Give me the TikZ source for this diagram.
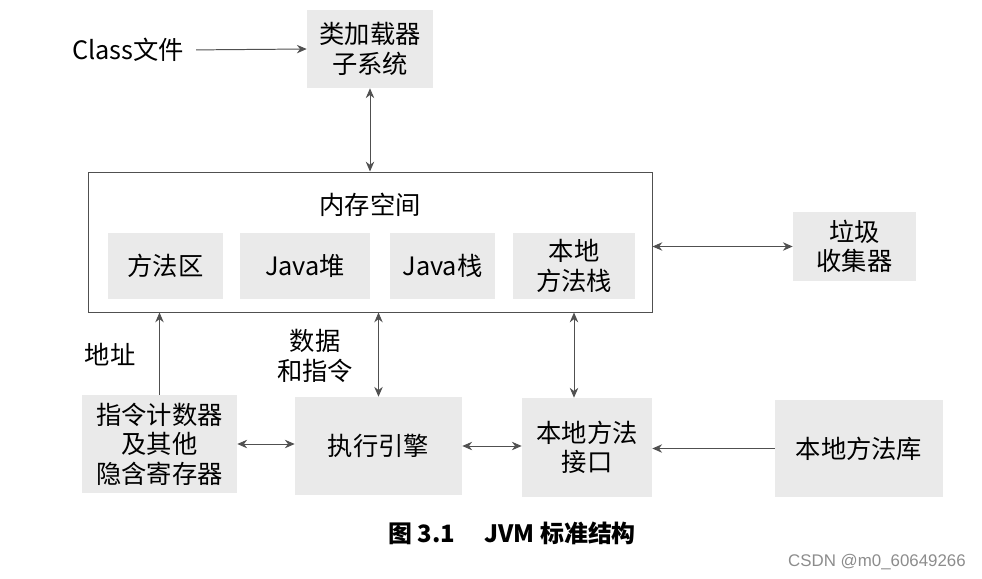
\documentclass[tikz,border=0pt]{standalone}
\usepackage{fontspec}
\setmainfont{Noto Sans CJK SC}
\newfontfamily\markfont{Liberation Sans}
\usetikzlibrary{arrows.meta}
\definecolor{boxgray}{RGB}{234,234,234}
\definecolor{linegray}{RGB}{80,80,80}

\begin{document}
\begin{tikzpicture}[x=0.025cm, y=-0.025cm, every node/.style={font=\fontsize{18}{21}\selectfont, align=center, inner sep=0pt},
    part/.style 2 args={fill=boxgray, minimum width=#1*0.025cm, minimum height=#2*0.025cm},
    link/.style={draw=linegray, line width=0.7pt}, >={Stealth[length=7pt,width=6pt]}]
        \useasboundingbox (0,0) rectangle (982,579);
        \node (classfile) at (128,50) {Class文件};
        \node[part={126}{78}] (loader) at (370,49) {类加载器\\子系统};
        \node[link, minimum width=564*0.025cm, minimum height=140*0.025cm] (memory) at (370,242) {};
        \node (memtitle) at (370,205) {内存空间};
        \node[part={115}{66}] (method) at (165.5,266) {方法区};
        \node[part={130}{66}] (heap) at (305,266) {Java堆};
        \node[part={105}{66}] (jstack) at (442.5,266) {Java栈};
        \node[part={122}{66}] (nstack) at (574,266) {本地\\方法栈};
        \node[part={123}{69}] (gc) at (854.5,246.5) {垃圾\\收集器};
        \node[part={155}{98}] (pc) at (159.5,444) {指令计数器\\及其他\\隐含寄存器};
        \node[part={167}{98}] (engine) at (378.5,446) {执行引擎};
        \node[part={130}{99}] (nif) at (587,447.5) {本地方法\\接口};
        \node[part={168}{97}] (nlib) at (859,448.5) {本地方法库};
        \node (addr) at (110,355) {地址};
        \node (data) at (315,356) {数据\\和指令};
        \node[font=\bfseries\fontsize{17}{19}\selectfont] (caption) at (512,533) {图 3.1\hspace{1em} JVM 标准结构};
        \node[font=\markfont\fontsize{12}{14}\selectfont, text=black!45] (mark) at (877,562) {CSDN @m0\_60649266};
        \draw[link, ->, shorten <=0.3cm] (classfile.east) -- (loader.west);
        \draw[link, <->] (loader.south) -- (memory.north);
        \draw[link, <->] (gc.west -| memory.east) -- (gc.west);
        \draw[link, ->] (pc.north) -- (pc.north |- memory.south);
        \draw[link, <->] (engine.north) -- (engine.north |- memory.south);
        \draw[link, <->] (nif.north -| nstack.south) -- (memory.south -| nstack.south);
        \draw[link, <->] (pc.east) -- (pc.east -| engine.west);
        \draw[link, <->] (engine.east) -- (engine.east -| nif.west);
        \draw[link, ->] (nlib.west) -- (nlib.west -| nif.east);
\end{tikzpicture}
\end{document}
